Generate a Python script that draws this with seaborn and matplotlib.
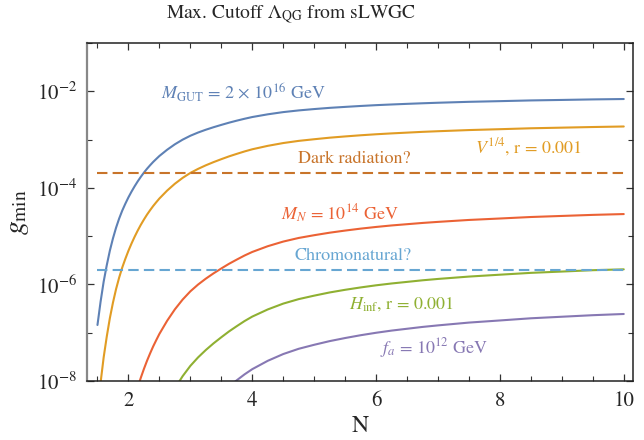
import numpy as np
import pandas as pd
import matplotlib
matplotlib.use("Agg")
import matplotlib.pyplot as plt
import matplotlib.ticker as mticker
import seaborn as sns

nan = np.nan

# N values shared by all curves
n_vals = [1.5, 1.55, 1.6, 1.65, 1.7, 1.75, 1.8, 1.85, 1.9, 1.95, 2.0, 2.05, 2.1,
          2.15, 2.2, 2.25, 2.3, 2.35, 2.4, 2.45, 2.5,
          2.625, 2.75, 2.875, 3.0, 3.125, 3.25, 3.375, 3.5, 3.625, 3.75, 3.875, 4.0,
          4.25, 4.5, 4.75, 5.0, 5.25, 5.5, 5.75, 6.0, 6.25, 6.5, 6.75, 7.0,
          7.5, 8.0, 8.5, 9.0, 9.5, 10.0]

# log10(g_min)
log_gut = [-6.839, -6.359, -5.942, -5.602, -5.300, -5.046, -4.825, -4.635, -4.470,
           -4.327, -4.195, -4.076, -3.966, -3.864, -3.770, -3.683, -3.603, -3.530,
           -3.461, -3.399, -3.338,
           -3.209, -3.096, -3.000, -2.919, -2.852, -2.794, -2.742, -2.694, -2.648,
           -2.606, -2.567, -2.531,
           -2.475, -2.429, -2.394, -2.366, -2.341, -2.321, -2.302, -2.285, -2.271,
           -2.258, -2.246, -2.235,
           -2.216, -2.202, -2.187, -2.177, -2.166, -2.158]
log_v14 = [-8.643, -8.037, -7.510, -7.080, -6.698, -6.377, -6.097, -5.858, -5.649,
           -5.469, -5.302, -5.151, -5.012, -4.883, -4.764, -4.655, -4.553, -4.461,
           -4.374, -4.295, -4.219,
           -4.055, -3.913, -3.792, -3.689, -3.605, -3.531, -3.465, -3.404, -3.346,
           -3.294, -3.244, -3.199,
           -3.128, -3.070, -3.025, -2.991, -2.959, -2.933, -2.909, -2.888, -2.870,
           -2.854, -2.838, -2.825,
           -2.801, -2.783, -2.764, -2.751, -2.738, -2.727]
log_mn = [nan] * 12 + [-8.344, -8.129, -7.932, -7.750, -7.581, -7.427, -7.282, -7.151,
                       -7.024,
                       -6.752, -6.515, -6.313, -6.142, -6.001, -5.879, -5.769, -5.668,
                       -5.571, -5.484, -5.400, -5.326,
                       -5.207, -5.111, -5.036, -4.979, -4.927, -4.883, -4.843, -4.808,
                       -4.777, -4.751, -4.725, -4.703,
                       -4.663, -4.633, -4.602, -4.580, -4.558, -4.541]
log_hinf = [nan] * 22 + [-8.153, -7.900, -7.686, -7.510, -7.357, -7.219, -7.093,
                         -6.972, -6.863, -6.758, -6.665,
                         -6.517, -6.396, -6.303, -6.231, -6.165, -6.110, -6.061,
                         -6.017, -5.979, -5.946, -5.913, -5.885,
                         -5.836, -5.797, -5.759, -5.732, -5.704, -5.686]
log_fa = [nan] * 29 + [-8.111, -7.984, -7.862, -7.754,
                       -7.581, -7.441, -7.332, -7.249, -7.173, -7.109, -7.051, -7.000,
                       -6.955, -6.917, -6.879, -6.847,
                       -6.789, -6.745, -6.700, -6.668, -6.636, -6.611]

curve_names = ["gut", "v14", "mn", "hinf", "fa"]
curve_logs = [log_gut, log_v14, log_mn, log_hinf, log_fa]
curve_colors = ["#5E81B5", "#E19C24", "#EB6235", "#8FB032", "#8778B3"]

# horizontal reference lines
dark_rad = 2e-4
chromo = 2e-6
n_range = [1.5, 10.0]

frames = []
for name, logs in zip(curve_names, curve_logs):
    frames.append(pd.DataFrame({"N": n_vals, "g": 10.0 ** np.array(logs), "curve": name}))
df = pd.concat(frames).dropna()

sns.set_theme(style="ticks")
plt.rcParams["font.family"] = ["STIXGeneral", "DejaVu Serif"]
plt.rcParams["mathtext.fontset"] = "stix"

fig = plt.figure(figsize=(6.44, 4.40), dpi=100)
ax = fig.add_axes([0.135, 0.134, 0.848, 0.768])

sns.lineplot(data=df, x="N", y="g", hue="curve", hue_order=curve_names,
             palette=curve_colors, estimator=None, sort=False, legend=False,
             linewidth=1.5, ax=ax)
sns.lineplot(x=n_range, y=[dark_rad, dark_rad], color="#C8742A", linewidth=1.5,
             linestyle=(0, (5, 2.5)), ax=ax)
sns.lineplot(x=n_range, y=[chromo, chromo], color="#67A6D2", linewidth=1.5,
             linestyle=(0, (5, 2.5)), ax=ax)

ax.set_yscale("log")
ax.set_ylim(1e-8, 1e-1)
ax.set_xlim(1.33, 10.15)

ax.xaxis.set_major_locator(mticker.FixedLocator([2, 4, 6, 8, 10]))
ax.xaxis.set_minor_locator(mticker.MultipleLocator(0.5))
ax.yaxis.set_major_locator(mticker.FixedLocator([1e-8, 1e-6, 1e-4, 1e-2]))
ax.yaxis.set_minor_locator(mticker.FixedLocator([1e-7, 1e-5, 1e-3, 1e-1]))
ax.yaxis.set_minor_formatter(mticker.NullFormatter())
ax.tick_params(which="both", direction="in", top=True, right=True, labelsize=15,
               color="#333333")
ax.tick_params(which="major", length=5, width=0.9, pad=7)
ax.tick_params(which="minor", length=3.5, width=0.8)

for side in ["top", "right", "bottom"]:
    ax.spines[side].set_color("#222222")
    ax.spines[side].set_linewidth(1.1)
ax.spines["left"].set_color("#888888")
ax.spines["left"].set_linewidth(1.6)

ax.set_xlabel("N", fontsize=17, labelpad=4)
ax.set_ylabel(r"$g_{\rm min}$", fontsize=20, labelpad=4)
fig.text(0.452, 0.965, r"Max. Cutoff $\Lambda_{\rm QG}$ from sLWGC", fontsize=14,
         ha="center", va="center")

fs = 13
ax.text(2.52, 10 ** -2.02, r"$M_{\rm GUT}$ = 2 $\times$ 10$^{16}$ GeV", color="#5E81B5",
        fontsize=fs, va="center")
ax.text(7.6, 10 ** -3.16, r"$V^{1/4}$, r = 0.001", color="#E19C24", fontsize=fs, va="center")
ax.text(4.74, 10 ** -3.41, "Dark radiation?", color="#C8742A", fontsize=fs, va="center")
ax.text(4.47, 10 ** -4.53, r"$M_N$ = 10$^{14}$ GeV", color="#EB6235", fontsize=fs, va="center")
ax.text(4.69, 10 ** -5.40, "Chromonatural?", color="#67A6D2", fontsize=fs, va="center")
ax.text(5.57, 10 ** -6.40, r"$H_{\rm inf}$, r = 0.001", color="#8FB032", fontsize=fs, va="center")
ax.text(6.06, 10 ** -7.31, r"$f_a$ = 10$^{12}$ GeV", color="#8778B3", fontsize=fs, va="center")

fig.savefig("out.png", dpi=100)
